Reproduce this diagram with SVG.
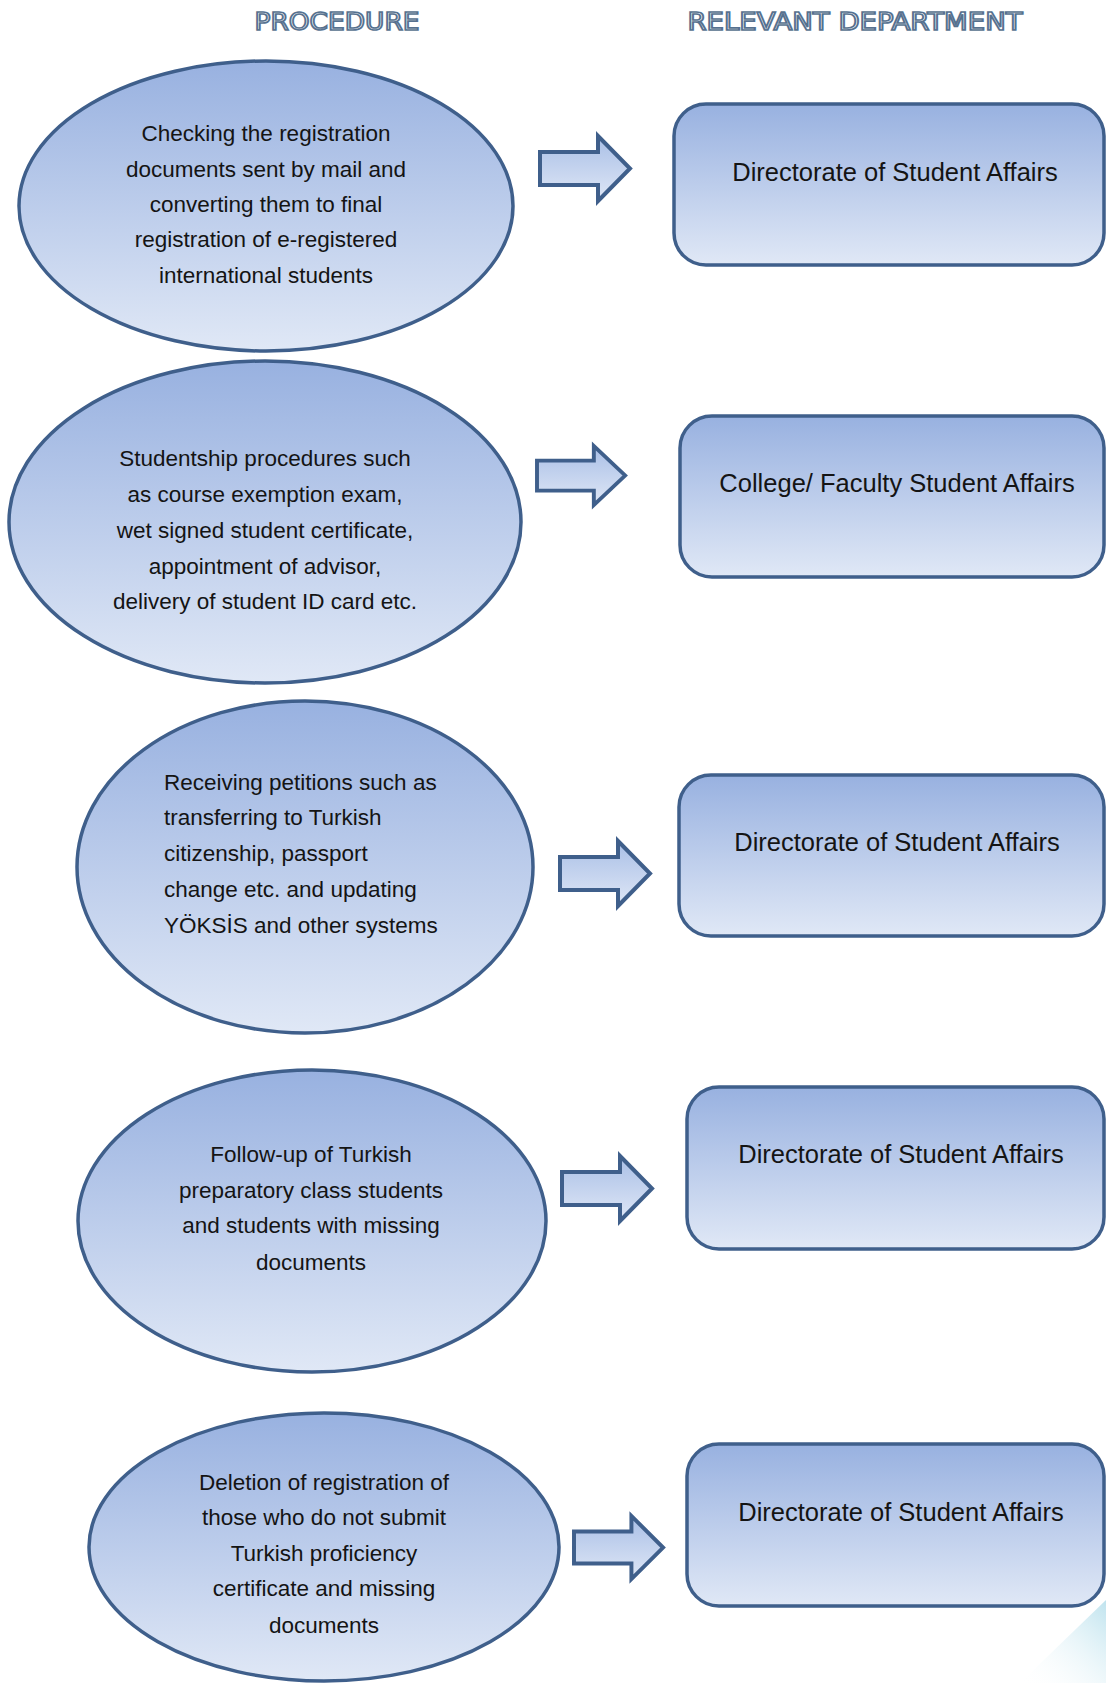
<svg xmlns="http://www.w3.org/2000/svg" xmlns:xlink="http://www.w3.org/1999/xlink" width="1106" height="1683" viewBox="0 0 1106 1683">
<defs>
<linearGradient id="g" x1="0" y1="0" x2="0" y2="1">
<stop offset="0" stop-color="#98b1e0"/>
<stop offset="1" stop-color="#e0e8f6"/>
</linearGradient>
<linearGradient id="ga" x1="0" y1="0" x2="0" y2="1">
<stop offset="0" stop-color="#a9bfe6"/>
<stop offset="1" stop-color="#dfe7f6"/>
</linearGradient>
<linearGradient id="corner" x1="0" y1="1" x2="1" y2="0">
<stop offset="0" stop-color="#ffffff" stop-opacity="0"/>
<stop offset="1" stop-color="#bfe3ee"/>
</linearGradient>
<path id="arrow" d="M0,16 H58 V0 L90,32.5 L58,65 V49 H0 Z"/>
<style>
.sh{fill:url(#g);stroke:#3f5f8b;stroke-width:3.5}
.ar{fill:url(#ga);stroke:#3f5f8b;stroke-width:4;stroke-linejoin:miter}
.t{font-family:"Liberation Sans",Arial,sans-serif;font-size:22.5px;fill:#141414;text-anchor:middle}
.tl{font-family:"Liberation Sans",Arial,sans-serif;font-size:22.5px;fill:#141414;text-anchor:start}
.bt{font-family:"Liberation Sans",Arial,sans-serif;font-size:25.5px;fill:#141414;text-anchor:middle}
.hd{font-family:"DejaVu Sans",sans-serif;font-stretch:condensed;font-size:25px;fill:#ffffff;stroke:#56718f;stroke-width:1.6;text-anchor:middle}
</style>
</defs>
<rect width="1106" height="1683" fill="#ffffff"/>
<polygon points="1106,1600 1106,1683 1020,1683" fill="url(#corner)"/>

<g id="headers">
<text class="hd" x="337" y="30" textLength="165" lengthAdjust="spacingAndGlyphs">PROCEDURE</text>
<text class="hd" x="855" y="30" textLength="335" lengthAdjust="spacingAndGlyphs">RELEVANT DEPARTMENT</text>
</g>

<g id="proc1">
<ellipse class="sh" cx="266" cy="206" rx="247" ry="145"/>
<text class="t" x="266" y="141">Checking the registration</text>
<text class="t" x="266" y="177">documents sent by mail and</text>
<text class="t" x="266" y="212">converting them to final</text>
<text class="t" x="266" y="247">registration of e-registered</text>
<text class="t" x="266" y="283">international students</text>
</g>

<g id="dept1">
<rect class="sh" x="674" y="104" width="430" height="161" rx="32"/>
<text class="bt" x="895" y="181">Directorate of Student Affairs</text>
</g>

<g id="proc2">
<ellipse class="sh" cx="265" cy="522" rx="256" ry="161"/>
<text class="t" x="265" y="466">Studentship procedures such</text>
<text class="t" x="265" y="502">as course exemption exam,</text>
<text class="t" x="265" y="538">wet signed student certificate,</text>
<text class="t" x="265" y="574">appointment of advisor,</text>
<text class="t" x="265" y="609">delivery of student ID card etc.</text>
</g>

<g id="dept2">
<rect class="sh" x="680" y="416" width="424" height="161" rx="32"/>
<text class="bt" x="897" y="492">College/ Faculty Student Affairs</text>
</g>

<g id="proc3">
<ellipse class="sh" cx="305" cy="867" rx="228" ry="166"/>
<text class="tl" x="164" y="790">Receiving petitions such as</text>
<text class="tl" x="164" y="825">transferring to Turkish</text>
<text class="tl" x="164" y="861">citizenship, passport</text>
<text class="tl" x="164" y="897">change etc. and updating</text>
<text class="tl" x="164" y="933">YÖKSİS and other systems</text>
</g>

<g id="dept3">
<rect class="sh" x="679" y="775" width="425" height="161" rx="32"/>
<text class="bt" x="897" y="851">Directorate of Student Affairs</text>
</g>

<g id="proc4">
<ellipse class="sh" cx="312" cy="1221" rx="234" ry="151"/>
<text class="t" x="311" y="1162">Follow-up of Turkish</text>
<text class="t" x="311" y="1198">preparatory class students</text>
<text class="t" x="311" y="1233">and students with missing</text>
<text class="t" x="311" y="1270">documents</text>
</g>

<g id="dept4">
<rect class="sh" x="687" y="1087" width="417" height="162" rx="32"/>
<text class="bt" x="901" y="1163">Directorate of Student Affairs</text>
</g>

<g id="proc5">
<ellipse class="sh" cx="324" cy="1547" rx="235" ry="134"/>
<text class="t" x="324" y="1490">Deletion of registration of</text>
<text class="t" x="324" y="1525">those who do not submit</text>
<text class="t" x="324" y="1561">Turkish proficiency</text>
<text class="t" x="324" y="1596">certificate and missing</text>
<text class="t" x="324" y="1633">documents</text>
</g>

<g id="dept5">
<rect class="sh" x="687" y="1444" width="417" height="162" rx="32"/>
<text class="bt" x="901" y="1521">Directorate of Student Affairs</text>
</g>

<g id="connectors">
<use xlink:href="#arrow" class="ar" x="540" y="136"/>
<use xlink:href="#arrow" class="ar" transform="translate(537,446) scale(0.98,0.91)"/>
<use xlink:href="#arrow" class="ar" x="560" y="841"/>
<use xlink:href="#arrow" class="ar" x="562" y="1156"/>
<use xlink:href="#arrow" class="ar" transform="translate(574,1516) scale(0.99,0.97)"/>
</g>
</svg>
